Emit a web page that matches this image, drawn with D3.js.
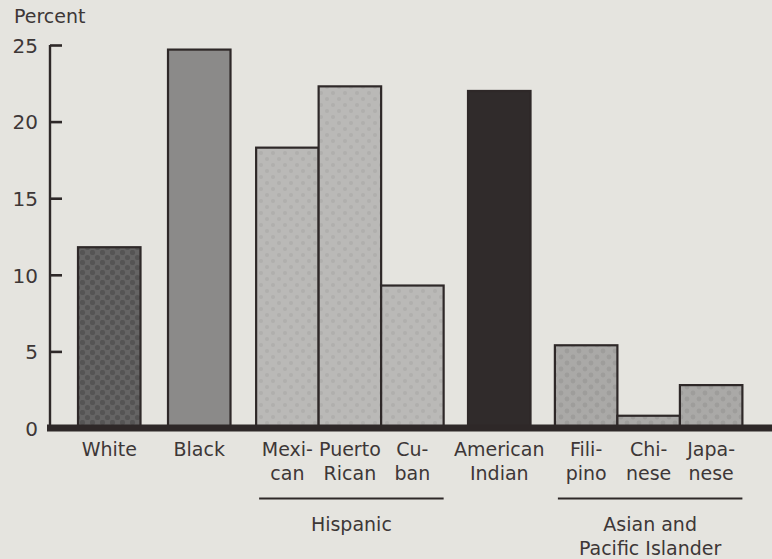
<!DOCTYPE html>
<html>
<head>
<meta charset="utf-8">
<script src="https://cdn.jsdelivr.net/npm/d3@7"></script>
<style>
  html, body { margin: 0; padding: 0; background: #e5e4df; }
  svg { display: block; }
  text { font-family: "DejaVu Sans", sans-serif; fill: #3d3737; }
</style>
</head>
<body>
<svg id="chart" width="772" height="559"></svg>
<script>
// ---- data ----
const categories = ["White", "Black", "Mexican", "Puerto Rican", "Cuban", "American Indian", "Filipino", "Chinese", "Japanese"];
const labelLine1 = ["White", "Black", "Mexi-", "Puerto", "Cu-", "American", "Fili-", "Chi-", "Japa-"];
const labelLine2 = ["", "", "can", "Rican", "ban", "Indian", "pino", "nese", "nese"];
const values = [11.8, 24.7, 18.3, 22.3, 9.3, 22.0, 5.4, 0.8, 2.8];
const groupOf = ["White", "Black", "Hispanic", "Hispanic", "Hispanic", "American Indian", "Asian", "Asian", "Asian"];
const slots = [0, 1.44, 2.85, 3.85, 4.85, 6.24, 7.63, 8.63, 9.63];   // bar starts, in bar-width units
const yTicks = [0, 5, 10, 15, 20, 25];
const groupLabels = [
  { name: "Hispanic", lines: ["Hispanic"], from: 2, to: 4 },
  { name: "Asian", lines: ["Asian and", "Pacific Islander"], from: 6, to: 8 }
];

const fills = {
  "White": "url(#patWhite)",
  "Black": "#8b8a89",
  "Hispanic": "url(#patHisp)",
  "American Indian": "#302b2b",
  "Asian": "url(#patAsian)"
};

const svg = d3.select("#chart");
const ink = "#2e2828";
const fs = "19px";

// patterns
const defs = svg.append("defs");
function dotPattern(id, base, dot, size, r) {
  const p = defs.append("pattern").attr("id", id).attr("patternUnits", "userSpaceOnUse")
    .attr("width", size).attr("height", size);
  p.append("rect").attr("width", size).attr("height", size).attr("fill", base);
  p.append("circle").attr("cx", size / 4).attr("cy", size / 4).attr("r", r).attr("fill", dot);
  p.append("circle").attr("cx", 3 * size / 4).attr("cy", 3 * size / 4).attr("r", r).attr("fill", dot);
}
dotPattern("patWhite", "#656464", "#555454", 10, 2.6);
dotPattern("patHisp", "#bab9b7", "#b0afad", 12, 2);
dotPattern("patAsian", "#aaa9a7", "#9e9d9b", 12, 2.4);

// scales
const x = d3.scaleLinear().domain([0, 10.63]).range([78, 742.4]);
const bw = x(1) - x(0);
const y = d3.scaleLinear().domain([0, 25]).range([428, 45]);

// bars
svg.append("g").selectAll("rect").data(values).join("rect")
  .attr("x", (d, i) => x(slots[i]))
  .attr("y", d => y(d))
  .attr("width", bw)
  .attr("height", d => y(0) - y(d))
  .attr("fill", (d, i) => fills[groupOf[i]])
  .attr("stroke", ink)
  .attr("stroke-width", 2.2);

// y axis
const yAxis = d3.axisLeft(y).tickValues(yTicks).tickSize(0).tickPadding(0);
const ag = svg.append("g").attr("transform", "translate(50,0)").call(yAxis);
ag.select(".domain").remove();
ag.selectAll(".tick text").remove();
ag.append("line").attr("x1", 0).attr("x2", 0).attr("y1", y(25)).attr("y2", y(0))
  .attr("stroke", ink).attr("stroke-width", 2.4);
ag.selectAll(".tick").append("line").attr("x1", 0).attr("x2", 12)
  .attr("stroke", ink).attr("stroke-width", 2.6);
ag.selectAll(".tick").append("text")
  .attr("x", -12).attr("dy", "0.36em")
  .attr("text-anchor", "end")
  .style("font-size", "20px")
  .attr("fill", "#3d3737")
  .text(d => d);

// baseline
svg.append("line").attr("x1", 47).attr("x2", 772).attr("y1", y(0)).attr("y2", y(0))
  .attr("stroke", ink).attr("stroke-width", 7);

// y title
svg.append("text").attr("x", 14).attr("y", 23).style("font-size", fs).text("Percent");

// category labels
const lab = svg.append("g").selectAll("g").data(categories).join("g")
  .attr("transform", (d, i) => `translate(${x(slots[i]) + bw / 2},0)`);
lab.append("text").attr("y", 456).attr("text-anchor", "middle").style("font-size", fs)
  .text((d, i) => labelLine1[i]);
lab.append("text").attr("y", 480).attr("text-anchor", "middle").style("font-size", fs)
  .text((d, i) => labelLine2[i]);

// group labels
groupLabels.forEach(g => {
  const x0 = x(slots[g.from]) + 3, x1 = x(slots[g.to]) + bw;
  svg.append("line").attr("x1", x0).attr("x2", x1).attr("y1", 498.5).attr("y2", 498.5)
    .attr("stroke", ink).attr("stroke-width", 2);
  g.lines.forEach((t, k) => {
    svg.append("text").attr("x", (x0 + x1) / 2).attr("y", 531 + k * 23.5)
      .attr("text-anchor", "middle").style("font-size", fs).text(t);
  });
});
</script>
</body>
</html>
